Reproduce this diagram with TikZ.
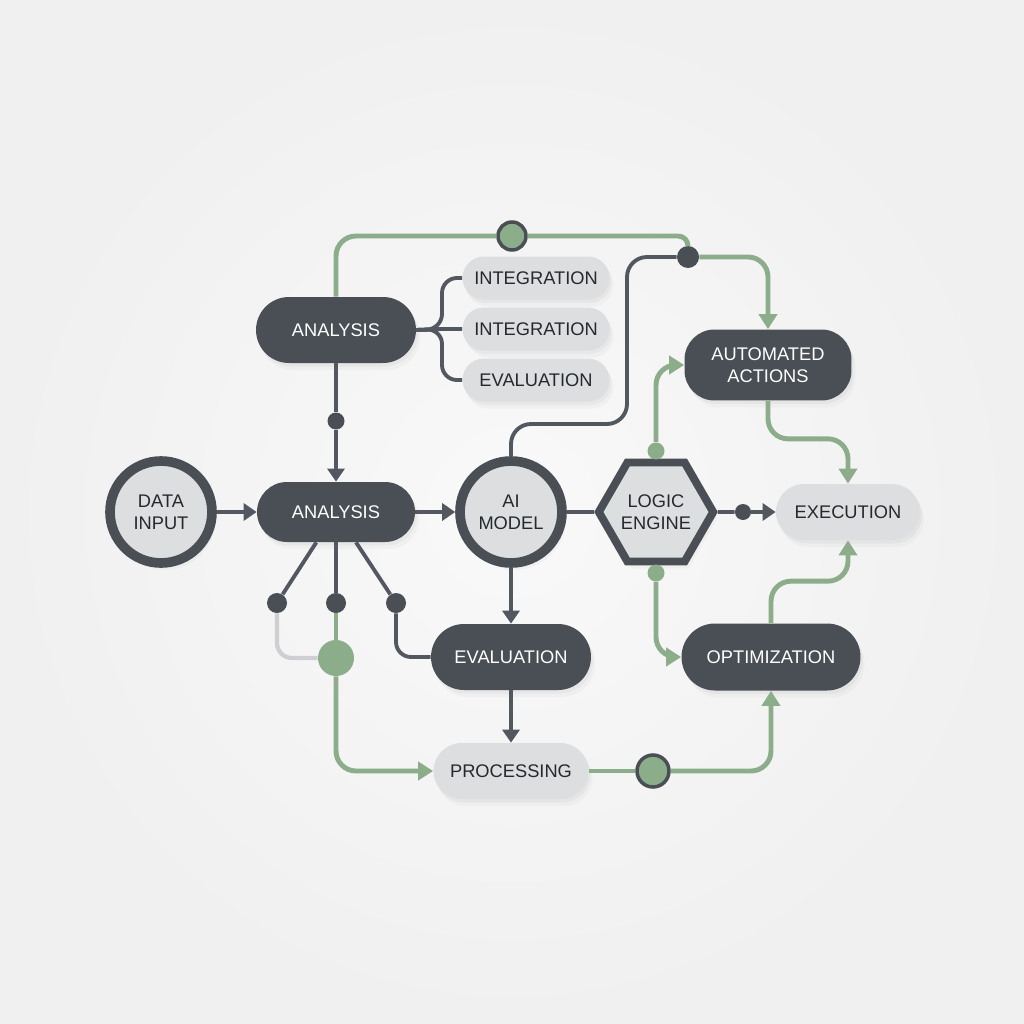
\documentclass[tikz,border=0pt]{standalone}
\usepackage{fontspec}
\setmainfont{Liberation Sans}
\usetikzlibrary{arrows.meta,positioning,shapes.geometric,shadows}

\definecolor{slate}{HTML}{4A4F56}
\definecolor{wirec}{HTML}{535860}
\definecolor{pale}{HTML}{DCDEE0}
\definecolor{sage}{HTML}{8CAD8A}
\definecolor{mist}{HTML}{CDCFD2}
\definecolor{ink}{HTML}{25292E}
\definecolor{paperin}{HTML}{F9F9F9}
\definecolor{paperout}{HTML}{F0F0F0}

\tikzset{
  soft/.style={drop shadow={opacity=.07,shadow xshift=.4mm,shadow yshift=-.7mm},
               drop shadow={opacity=.05,shadow xshift=.8mm,shadow yshift=-1.4mm}},
  lbl/.style={font=\fontsize{10.4}{12.5}\selectfont, align=center, inner sep=0pt},
  pill/.style={rectangle, minimum height=#1*0.02cm, rounded corners=#1*0.01cm},
  darkbox/.style={lbl, soft, fill=slate, text=white},
  lightbox/.style={lbl, soft, fill=pale, text=ink},
  ringnode/.style={lbl, soft, circle, fill=pale, text=ink, draw=slate,
                   line width=5.5pt, minimum size=2.04cm},
  hexnode/.style={lbl, soft, regular polygon, regular polygon sides=6, fill=pale,
                  text=ink, draw=slate, line width=4.5pt, minimum size=2.26cm},
  knob/.style={circle, fill=slate, inner sep=0pt, minimum size=#1*0.02cm},
  gknob/.style={circle, fill=sage, inner sep=0pt, minimum size=#1*0.02cm},
  ringknob/.style={circle, fill=sage, draw=slate, line width=2pt, inner sep=0pt,
                   minimum size=#1*0.02cm},
  darkline/.style={draw=wirec, line width=2.2pt},
  greenline/.style={draw=sage, line width=2.8pt},
  paleline/.style={draw=mist, line width=2.4pt},
  darkarrow/.style={darkline, -{Triangle[length=2.6mm,width=3.4mm]}},
  greenarrow/.style={greenline, -{Triangle[length=3mm,width=3.6mm]}}
}

\begin{document}
\begin{tikzpicture}[x=0.02cm,y=-0.02cm]
% backdrop
\useasboundingbox (0,0) rectangle (1024,1024);
\shade[inner color=paperin, outer color=paperout] (0,0) rectangle (1024,1024);

% main blocks
\node[ringnode] (datain) at (161,512) {DATA\\INPUT};
\node[darkbox, pill=60, minimum width=3.16cm] (anamid) at (336,512) {ANALYSIS};
\node[darkbox, pill=66, minimum width=3.2cm] (anatop) at (336,330) {ANALYSIS};
\node[lightbox, pill=43, minimum width=2.94cm] (integ1) at (536,278) {INTEGRATION};
\node[lightbox, pill=43, minimum width=2.94cm] (integ2) at (536,329) {INTEGRATION};
\node[lightbox, pill=43, minimum width=2.94cm] (evaltop) at (536,380) {EVALUATION};
\node[ringnode] (aimodel) at (511,512) {AI\\MODEL};
\node[hexnode] (logic) at (656,512) {LOGIC\\ENGINE};
\node[lightbox, pill=56, minimum width=2.88cm] (exec) at (848,512) {EXECUTION};
\node[darkbox, rectangle, rounded corners=0.6cm, minimum height=1.42cm,
      minimum width=3.34cm] (autoact) at (768,365) {AUTOMATED\\ACTIONS};
\node[darkbox, pill=66, minimum width=3.2cm] (evalmid) at (511,657) {EVALUATION};
\node[darkbox, pill=67, minimum width=3.58cm] (optim) at (771,657) {OPTIMIZATION};
\node[lightbox, pill=56, minimum width=3.1cm] (proc) at (511,771) {PROCESSING};

% junction dots
\node[ringknob=28] (gtop) at (512,236) {};
\node[knob=22] (djoin) at (688,257) {};
\node[knob=17] (dvert) at (336,421) {};
\node[knob=20] (fanl) at (277,603) {};
\node[knob=20] (fanm) at (336,603) {};
\node[knob=20] (fanr) at (396,603) {};
\node[gknob=36] (gjoin) at (336,658) {};
\node[gknob=17] (lgup) at (656,451) {};
\node[gknob=17] (lgdn) at (656,573) {};
\node[knob=16] (dexe) at (743,512) {};
\node[ringknob=32] (gproc) at (653,771) {};
\coordinate (fork) at (442,329);
\coordinate (bendai) at (627,424);

% top loop
\draw[greenline, rounded corners=4mm] (anatop.north) |- (gtop);
\draw[greenline, rounded corners=2mm] (gtop) -| (djoin);
\draw[greenarrow, rounded corners=4mm] (djoin) -| (autoact.north);
\draw[darkline, rounded corners=4mm] (aimodel.north) |- (bendai) |- (djoin);

% analysis fork
\draw[darkline] (anatop.east) -- (fork) -- (integ2.west);
\draw[darkline, rounded corners=3mm] (anatop.east) -- (fork) |- (integ1.west);
\draw[darkline, rounded corners=3mm] (anatop.east) -- (fork) |- (evaltop.west);
\draw[darkline] (anatop) -- (dvert);
\draw[darkarrow] (dvert) -- (anamid);

% main row
\draw[darkarrow] (datain) -- (anamid);
\draw[darkarrow] (anamid) -- (aimodel);
\draw[darkline] (aimodel) -- (logic);
\draw[darkline] (logic) -- (dexe);
\draw[darkarrow] (dexe) -- (exec);
\draw[darkarrow] (aimodel) -- (evalmid);
\draw[darkarrow] (evalmid) -- (proc);

% fan below analysis
\draw[darkline] (anamid) -- (fanl);
\draw[darkline] (anamid) -- (fanm);
\draw[darkline] (anamid) -- (fanr);
\draw[paleline, rounded corners=3mm] (fanl) |- (gjoin);
\draw[greenline] (fanm) -- (gjoin);
\draw[greenarrow, rounded corners=4mm] (gjoin) |- (proc.west);
\draw[darkline, rounded corners=3mm] (fanr) |- (evalmid.west);

% right side
\draw[greenline] (proc) -- (gproc);
\draw[greenarrow, rounded corners=4mm] (gproc) -| (optim.south);
\draw[greenarrow, rounded corners=4mm] (optim.north) -- ++(0,-42) -| (exec.south);
\draw[greenarrow, rounded corners=4mm] (autoact.south) -- ++(0,38) -| (exec.north);
\draw[greenarrow, rounded corners=4mm] (lgup) |- (autoact.west);
\draw[greenarrow, rounded corners=4mm] (lgdn) |- (optim.west);
\end{tikzpicture}
\end{document}
